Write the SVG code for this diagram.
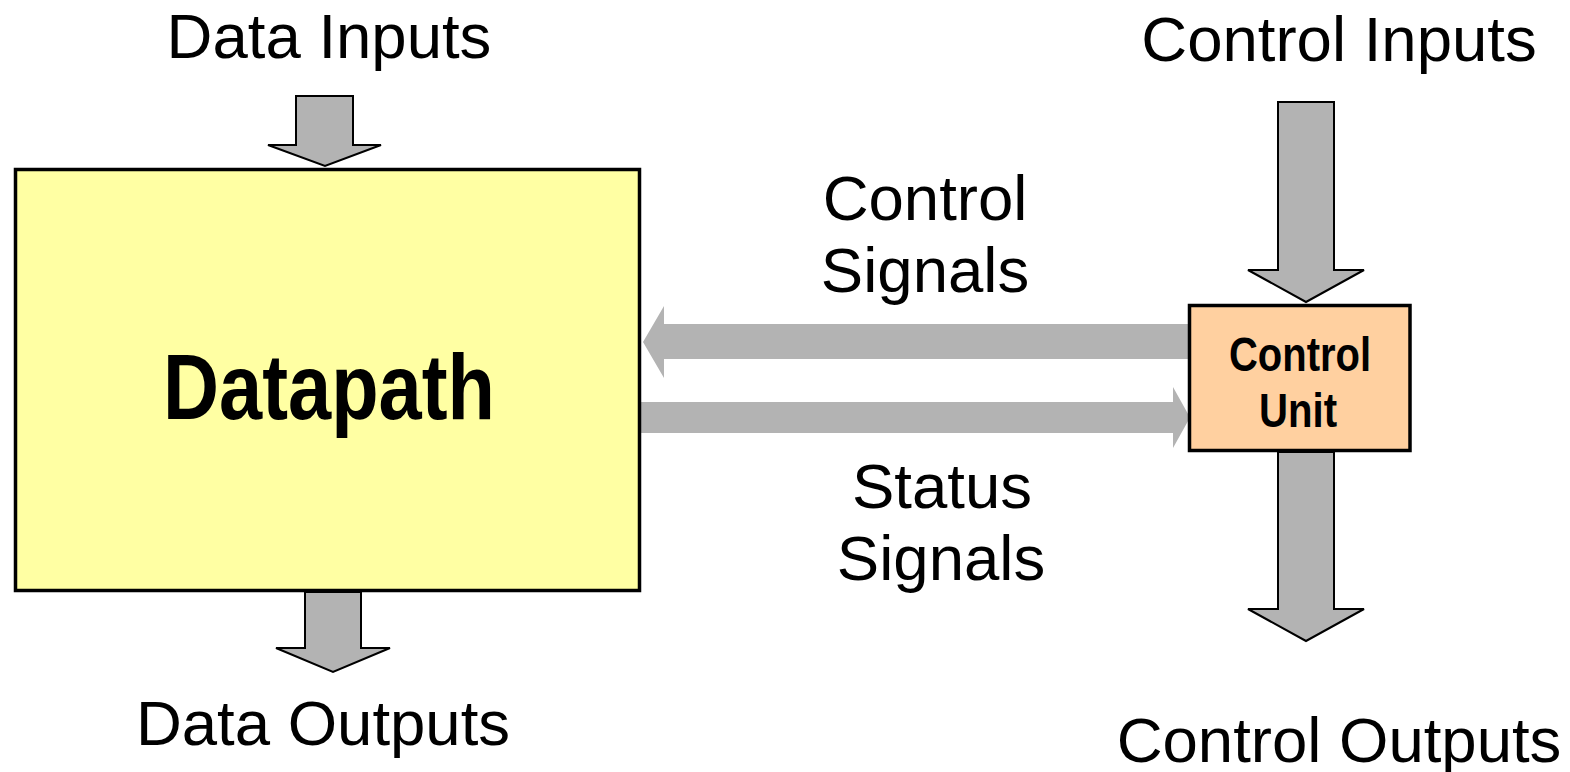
<svg xmlns="http://www.w3.org/2000/svg" width="1570" height="772" viewBox="0 0 1570 772">
<style>
.lbl{font-family:"Liberation Sans",Arial,sans-serif;font-size:63.5px;fill:#000;text-anchor:middle}
.bold{font-family:"Liberation Sans",Arial,sans-serif;font-weight:bold;fill:#000;text-anchor:middle}
.varrow{fill:#B3B3B3;stroke:#000;stroke-width:2;stroke-linejoin:miter}
.harrow{fill:#B3B3B3;stroke:none}
.box{stroke:#000;stroke-width:3.5}
</style>
<rect width="1570" height="772" fill="#fff"/>
<g id="connectors">
  <polygon class="varrow" points="296,96 353,96 353,145 381,145 325,166 268,145 296,145"/>
  <polygon class="varrow" points="305,592 361,592 361,648 390,648 333,672 276,648 305,648"/>
  <polygon class="varrow" points="1278,102 1334,102 1334,270 1364,270 1306,302 1248,270 1278,270"/>
  <polygon class="varrow" points="1278,452 1334,452 1334,609 1364,609 1306,641 1248,609 1278,609"/>
  <polygon class="harrow" points="1189,324 664,324 664,306 643,342 664,378 664,359 1189,359"/>
  <polygon class="harrow" points="641,402 1173,402 1173,387 1190,417.5 1173,448 1173,433 641,433"/>
</g>
<g id="datapath">
  <rect class="box" x="15.5" y="169.5" width="624" height="421" fill="#FFFFA3"/>
  <text class="bold" x="329" y="419" font-size="93" textLength="332" lengthAdjust="spacingAndGlyphs">Datapath</text>
</g>
<g id="control-unit">
  <rect class="box" x="1189.5" y="305.5" width="220.5" height="145" fill="#FFD0A0"/>
  <text class="bold" x="1300" y="371" font-size="49" textLength="142" lengthAdjust="spacingAndGlyphs">Control</text>
  <text class="bold" x="1298" y="427" font-size="49" textLength="78" lengthAdjust="spacingAndGlyphs">Unit</text>
</g>
<g id="labels">
  <text class="lbl" x="329" y="58">Data Inputs</text>
  <text class="lbl" x="323" y="745">Data Outputs</text>
  <text class="lbl" x="1339" y="61">Control Inputs</text>
  <text class="lbl" x="1339" y="762">Control Outputs</text>
  <text class="lbl" x="925" y="220">Control</text>
  <text class="lbl" x="925" y="292">Signals</text>
  <text class="lbl" x="942" y="508">Status</text>
  <text class="lbl" x="941" y="580">Signals</text>
</g>
</svg>
